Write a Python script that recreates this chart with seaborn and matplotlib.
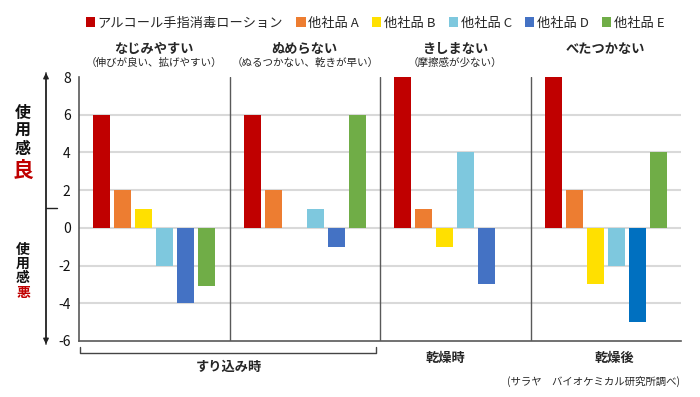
import pandas as pd
import matplotlib
matplotlib.use("Agg")
import matplotlib.pyplot as plt
from matplotlib.lines import Line2D
from matplotlib.patches import FancyArrowPatch
import seaborn as sns

# --- data ---
categories = ["なじみやすい", "ぬめらない", "きしまない", "べたつかない"]
subtitles = ["（伸びが良い、拡げやすい）", "（ぬるつかない、乾きが早い）", "（摩擦感が少ない）", ""]
products = ["アルコール手指消毒ローション", "他社品 A", "他社品 B", "他社品 C", "他社品 D", "他社品 E"]
alcohol = [6, 6, 8, 8]
brand_a = [2, 2, 1, 2]
brand_b = [1, 0, -1, -3]
brand_c = [-2, 1, 4, -2]
brand_d = [-4, -1, -3, -5]
brand_e = [-3.1, 6, 0, 4]
yticks = [-6, -4, -2, 0, 2, 4, 6, 8]

colors = ["#C00000", "#ED7D31", "#FFE000", "#7EC8DE", "#4472C4", "#70AD47"]

series = [alcohol, brand_a, brand_b, brand_c, brand_d, brand_e]
rows = []
for prod, vals in zip(products, series):
    for cat, v in zip(categories, vals):
        rows.append({"category": cat, "product": prod, "score": v})
df = pd.DataFrame(rows)

sns.set_style("white")
plt.rcParams["font.family"] = ["Noto Sans CJK JP", "DejaVu Sans"]

W, H = 700, 397
fig = plt.figure(figsize=(7, 3.97), dpi=100)


def fx(px):
    return px / W


def fy(py):
    return 1 - py / H


ax = fig.add_axes([fx(79), fy(341), (681 - 79) / W, (341 - 77) / H])

sns.barplot(data=df, x="category", y="score", hue="product", order=categories,
            hue_order=products, palette=colors, saturation=1, width=0.84,
            gap=0.2, linewidth=0, ax=ax, zorder=3)

# the D bar in the last group is a deeper blue in the original
ax.containers[4][3].set_facecolor("#0070C0")

handles, labels = ax.get_legend_handles_labels()
if ax.get_legend() is not None:
    ax.get_legend().remove()

ax.set_xlim(-0.5, 3.5)
ax.set_ylim(-6, 8)
ax.set_yticks(yticks)
ax.set_yticklabels([str(t) for t in yticks], fontsize=10, color="#111111")
ax.tick_params(axis="y", length=0, pad=6)
ax.tick_params(axis="x", length=0, labelbottom=False)
ax.set_xlabel("")
ax.set_ylabel("")

ax.yaxis.grid(True, color="#D9D9D9", linewidth=1.5, zorder=0)
ax.set_axisbelow(True)
ax.get_ygridlines()[-1].set_visible(False)
ax.get_ygridlines()[0].set_visible(False)

for s in ["top", "right"]:
    ax.spines[s].set_visible(False)
for s in ["left", "bottom"]:
    ax.spines[s].set_color("#595959")
    ax.spines[s].set_linewidth(1.2)

for xpos in [0.5, 1.5, 2.5]:
    ax.axvline(xpos, color="#595959", linewidth=1.0, zorder=4)

# category titles above each group
for i, (cat, sub) in enumerate(zip(categories, subtitles)):
    ax.annotate(cat, xy=(i, 1), xycoords=("data", "axes fraction"),
                xytext=(0, 28), textcoords="offset pixels",
                ha="center", va="center", fontsize=9.5, fontweight="bold")
    if sub:
        ax.annotate(sub, xy=(i, 1), xycoords=("data", "axes fraction"),
                    xytext=(0, 14), textcoords="offset pixels",
                    ha="center", va="center", fontsize=7.6)

# legend
fig.legend(handles, labels, loc="center", bbox_to_anchor=(fx(375), fy(23)),
           ncol=6, frameon=False, fontsize=9.5, handlelength=0.7,
           handleheight=0.7, handletextpad=0.2, columnspacing=1.0)

# left scale arrow and labels
fig.add_artist(FancyArrowPatch((fx(46), fy(70)), (fx(46), fy(347)),
                               transform=fig.transFigure, arrowstyle="-|>",
                               mutation_scale=8, color="#222222", lw=1))
fig.add_artist(FancyArrowPatch((fx(46), fy(347)), (fx(46), fy(70)),
                               transform=fig.transFigure, arrowstyle="-|>",
                               mutation_scale=8, color="#222222", lw=1))
fig.add_artist(Line2D([fx(46), fx(57)], [fy(208), fy(208)],
                      transform=fig.transFigure, color="#222222", lw=1))

for ch, py in zip("使用感", [113, 131, 149]):
    fig.text(fx(23), fy(py), ch, ha="center", va="center",
             fontsize=11.5, fontweight="bold", color="#111111")
fig.text(fx(23), fy(170), "良", ha="center", va="center",
         fontsize=15, fontweight="bold", color="#C00000")
for ch, py in zip("使用感", [250, 264, 278]):
    fig.text(fx(23), fy(py), ch, ha="center", va="center",
             fontsize=10, fontweight="bold", color="#111111")
fig.text(fx(23), fy(293), "悪", ha="center", va="center",
         fontsize=10, fontweight="bold", color="#C00000")

# bottom bracket and stage labels
fig.add_artist(Line2D([fx(80), fx(80), fx(376), fx(376)],
                      [fy(347), fy(353), fy(353), fy(347)],
                      transform=fig.transFigure, color="#444444", lw=1))
fig.text(fx(229), fy(367), "すり込み時", ha="center", va="center",
         fontsize=9.5, fontweight="bold")
fig.text(fx(445), fy(358), "乾燥時", ha="center", va="center",
         fontsize=9.5, fontweight="bold")
fig.text(fx(614), fy(358), "乾燥後", ha="center", va="center",
         fontsize=9.5, fontweight="bold")
fig.text(fx(680), fy(381), "(サラヤ　バイオケミカル研究所調べ)", ha="right",
         va="center", fontsize=7.5)

fig.savefig("out.png", dpi=100)
